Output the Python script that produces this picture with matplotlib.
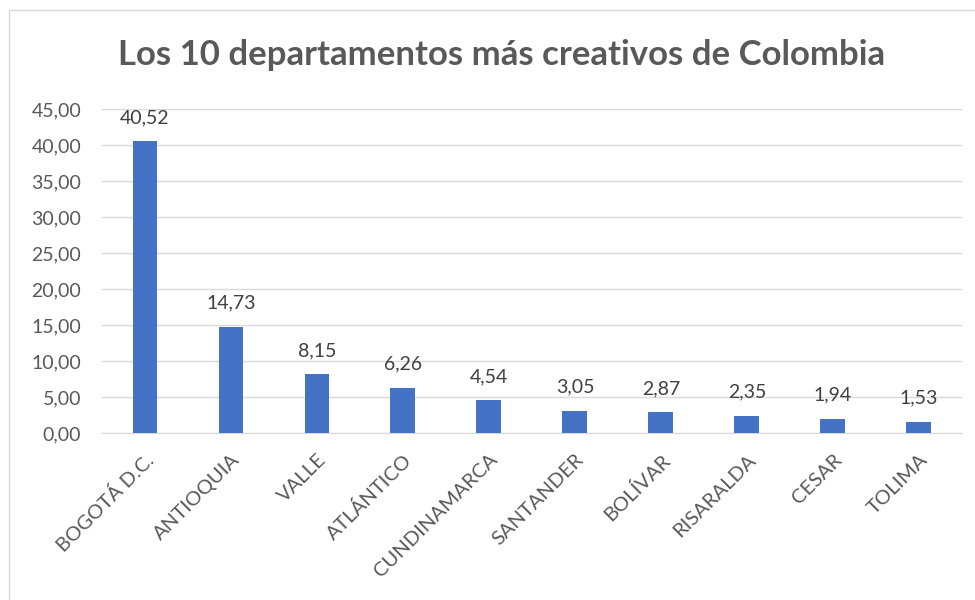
#!/usr/bin/env python3

import numpy as np
import matplotlib
matplotlib.use("Agg")
import matplotlib.pyplot as plt
from matplotlib.patches import Rectangle

plt.rcParams["font.family"] = ["Lato", "DejaVu Sans"]

#############################################################
######################### Data ##############################
#############################################################

Departamentos = ["BOGOTÁ D.C.", "ANTIOQUIA", "VALLE", "ATLÁNTICO",
                 "CUNDINAMARCA", "SANTANDER", "BOLÍVAR", "RISARALDA",
                 "CESAR", "TOLIMA"]
Valores = [40.52, 14.73, 8.15, 6.26, 4.54, 3.05, 2.87, 2.35, 1.94, 1.53]
YTicks = [0, 5, 10, 15, 20, 25, 30, 35, 40, 45]

Title = "Los 10 departamentos más creativos de Colombia"
BarColor = "#4472C4"
GridColor = "#D9D9D9"
TickColor = "#595959"
LabelColor = "#404040"


def coma(v):
    return ("%.2f" % v).replace(".", ",")


fig = plt.figure(figsize=(9.75, 6), dpi=100)
ax = fig.add_axes([0.1046, 0.2783, 0.882, 0.54])

x = np.arange(len(Departamentos))
ax.bar(x, Valores, width=0.29, color=BarColor, zorder=3)

for xi, v in zip(x, Valores):
    ax.annotate(coma(v), (xi, v), xytext=(0, 11), textcoords="offset points",
                ha="center", va="bottom", fontsize=14, color=LabelColor)

ax.set_xlim(-0.5, len(Departamentos) - 0.5)
ax.set_ylim(0, 45)
ax.set_yticks(YTicks)
ax.set_yticklabels([coma(t) for t in YTicks])
ax.set_xticks(x)
ax.set_xticklabels(Departamentos, rotation=45, ha="right",
                   rotation_mode="anchor")

ax.grid(axis="y", color=GridColor, linewidth=1, zorder=0)
for s in ["top", "right", "left"]:
    ax.spines[s].set_visible(False)
ax.spines["bottom"].set_color(GridColor)
ax.tick_params(axis="y", length=0, pad=15, labelsize=14, labelcolor=TickColor)
ax.tick_params(axis="x", length=0, pad=13, labelsize=14.5, labelcolor=TickColor)

fig.text(0.514, 0.908, Title, ha="center", va="center", fontsize=25,
         color=TickColor, fontweight="bold")

# chart border
fig.patches.append(Rectangle((9 / 975, -0.05), 1.2, 1 - 10 / 600 + 0.05,
                             transform=fig.transFigure, fill=False,
                             edgecolor="#D9D9D9", linewidth=1))

plt.savefig("out.png", dpi=100)
